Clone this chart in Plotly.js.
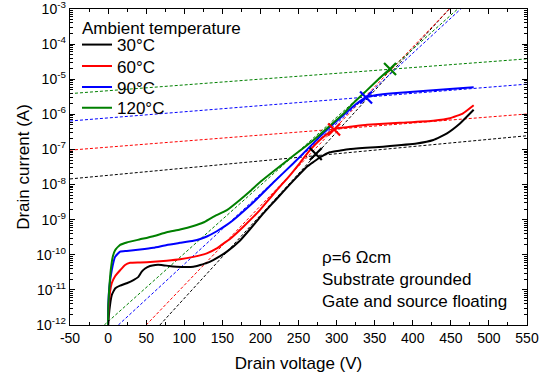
<!DOCTYPE html>
<html>
<head>
<meta charset="utf-8">
<script src="https://cdn.plot.ly/plotly-3.0.1.min.js"></script>
<style>html,body{margin:0;padding:0;background:#fff;}#chart{width:546px;height:377px;}</style>
</head>
<body>
<div id="chart"></div>
<script>
// ---- Data (drain voltage in V, log10 of drain current in A) ----
const legendTitle = "Ambient temperature";
const seriesNames = ["30°C", "60°C", "90°C", "120°C"];
const seriesColors = ["#000000", "#ff0000", "#0000ff", "#008000"];

const v30 = [0, 1.7, 4.8, 9.2, 15.8, 24.5, 33.3, 39.8, 44.2, 48.6, 55, 62, 70, 80, 90, 103, 112, 121, 130, 138, 147, 156, 173, 186, 198, 208, 220, 230, 248, 261, 270, 278, 291, 305, 318, 361, 405, 427, 445, 462, 480];
const logI30 = [-12, -11.58, -11.15, -10.96, -10.88, -10.81, -10.72, -10.63, -10.48, -10.39, -10.32, -10.29, -10.29, -10.32, -10.34, -10.35, -10.34, -10.29, -10.23, -10.15, -10.04, -9.91, -9.60, -9.28, -8.97, -8.72, -8.44, -8.20, -7.78, -7.49, -7.35, -7.23, -7.08, -7.03, -6.99, -6.92, -6.83, -6.73, -6.54, -6.26, -5.87];

const v60 = [0, 0.5, 2.6, 4.8, 9.2, 15.8, 22.3, 28.9, 42, 59.5, 77, 94.5, 112, 129.6, 142.7, 151.4, 160, 177.6, 199.6, 209, 221.5, 239, 252, 265, 278, 291.5, 300, 313, 340, 383, 427, 449, 466, 480];
const logI60 = [-12, -11.58, -11.05, -10.81, -10.61, -10.44, -10.29, -10.23, -10.22, -10.20, -10.17, -10.13, -10.06, -9.96, -9.82, -9.68, -9.55, -9.20, -8.72, -8.48, -8.16, -7.73, -7.38, -7.02, -6.73, -6.50, -6.40, -6.37, -6.30, -6.24, -6.18, -6.11, -5.97, -5.74];

const v90 = [0, 0.2, 1.7, 4.8, 9.2, 15.8, 24.5, 42, 59.5, 77, 94.5, 112, 121, 129.6, 142.7, 155.8, 164.5, 180, 195, 216.6, 243, 265, 287, 309, 326.5, 338.7, 352.7, 374.6, 418, 462, 480];
const logI90 = [-12, -11.48, -10.91, -10.44, -10.06, -9.91, -9.89, -9.85, -9.80, -9.72, -9.66, -9.60, -9.55, -9.48, -9.33, -9.15, -9.01, -8.72, -8.42, -7.95, -7.40, -6.92, -6.45, -6.02, -5.69, -5.52, -5.45, -5.40, -5.33, -5.26, -5.23];

const v120 = [0, 0.4, 1.7, 3.5, 6.1, 9.2, 15.8, 24.5, 42, 59.5, 77, 94.5, 112, 125, 138, 156, 173, 186, 200, 239, 270, 291.5, 309, 322, 340, 357, 370];
const logI120 = [-12, -11.38, -10.91, -10.44, -10.06, -9.87, -9.72, -9.65, -9.56, -9.47, -9.36, -9.28, -9.18, -9.08, -8.92, -8.73, -8.44, -8.20, -7.92, -7.25, -6.73, -6.32, -5.98, -5.68, -5.31, -4.96, -4.71];

// Fitted dashed lines: low-slope and steep, two end points each
const ohmicV = [-50, 550];
const ohmicLogI = [[-7.84, -6.61], [-7.02, -5.99], [-6.19, -5.14], [-5.41, -4.42]];
const steepLogI = [-12, -3];
const steepV = [[68, 448], [50, 448], [13.5, 463], [-5, 459]];

// Crossing markers
const crossV = [272.7, 296.7, 338.7, 370.2];
const crossLogI = [-7.13, -6.43, -5.52, -4.71];

// Tick labels
const yTickExp = [-12, -11, -10, -9, -8, -7, -6, -5, -4, -3];
const yTickText = yTickExp.map(e => "10<sup>" + e + "</sup>");
const xTickVals = [-50, 0, 50, 100, 150, 200, 250, 300, 350, 400, 450, 500, 550];

const annotationLines = ["ρ=6 Ωcm", "Substrate grounded", "Gate and source floating"];

const pow10 = a => a.map(v => Math.pow(10, v));
const FONT = "Liberation Sans, Arial, sans-serif";
const legendIds = ["legend", "legend2", "legend3", "legend4"];
const legendY = [0.886, 0.818, 0.752, 0.686];

const traces = [];
for (let i = 0; i < 4; i++) {
  traces.push({x: ohmicV, y: pow10(ohmicLogI[i]), mode: "lines", showlegend: false, hoverinfo: "skip",
    line: {color: seriesColors[i], width: 1, dash: "3px,2px"}});
  traces.push({x: steepV[i], y: pow10(steepLogI), mode: "lines", showlegend: false, hoverinfo: "skip",
    line: {color: seriesColors[i], width: 1, dash: "3px,2px"}});
}
const vs = [v30, v60, v90, v120];
const ls = [logI30, logI60, logI90, logI120];
for (let i = 0; i < 4; i++) {
  traces.push({x: vs[i], y: pow10(ls[i]), mode: "lines", name: seriesNames[i], legend: legendIds[i],
    line: {color: seriesColors[i], width: 2, shape: "spline", smoothing: 0.4}});
}
for (let i = 0; i < 4; i++) {
  traces.push({x: [crossV[i]], y: pow10([crossLogI[i]]), mode: "markers", showlegend: false,
    marker: {symbol: "x-thin", size: 12, line: {width: 2.2, color: seriesColors[i]}, color: seriesColors[i]}});
}

const minorY = [];
for (let e = -12; e < -3; e++) for (let d = 2; d <= 9; d++) minorY.push(d * Math.pow(10, e));

const layout = {
  width: 546, height: 377,
  margin: {l: 70, r: 19, t: 9, b: 52},
  paper_bgcolor: "#fff", plot_bgcolor: "#fff",
  font: {family: FONT, size: 14, color: "#000"},
  showlegend: true,
  xaxis: {
    range: [-50, 550], tickmode: "array", tickvals: xTickVals, ticktext: xTickVals.map(String),
    ticks: "inside", ticklen: 5, tickwidth: 1, tickcolor: "#000",
    showline: true, linecolor: "#000", linewidth: 1.3, mirror: "ticks",
    showgrid: false, zeroline: false, ticklabeloverflow: "allow",
    minor: {ticks: "inside", ticklen: 3, tickwidth: 1, tickcolor: "#000", dtick: 25, showgrid: false},
    tickfont: {family: FONT, size: 14},
    title: {text: "Drain voltage (V)", font: {family: FONT, size: 17}, standoff: 12}
  },
  yaxis: {
    type: "log", range: [-12, -3],
    tickmode: "array", tickvals: pow10(yTickExp), ticktext: yTickText,
    ticks: "inside", ticklen: 5, tickwidth: 1, tickcolor: "#000",
    showline: true, linecolor: "#000", linewidth: 1.3, mirror: "ticks",
    showgrid: false, zeroline: false, ticklabeloverflow: "allow",
    minor: {ticks: "inside", ticklen: 3, tickwidth: 1, tickcolor: "#000", tickmode: "array", tickvals: minorY, showgrid: false},
    tickfont: {family: FONT, size: 14},
    title: {text: "Drain current (A)", font: {family: FONT, size: 17}, standoff: 2}
  },
  annotations: [
    {xref: "paper", yref: "paper", x: 0.021, y: 0.937, xanchor: "left", yanchor: "middle",
     showarrow: false, text: legendTitle, font: {family: FONT, size: 17, color: "#000"}},
    {xref: "paper", yref: "paper", x: 0.547, y: 0.251, xanchor: "left", yanchor: "top",
     align: "left", showarrow: false, text: annotationLines.join("<br>"),
     font: {family: FONT, size: 17, color: "#000"}}
  ]
};
for (let i = 0; i < 4; i++) {
  layout[legendIds[i]] = {
    x: 0.0153, y: legendY[i], xanchor: "left", yanchor: "middle",
    bgcolor: "rgba(0,0,0,0)", borderwidth: 0,
    font: {family: FONT, size: 17, color: "#000"}
  };
}

Plotly.newPlot("chart", traces, layout, {staticPlot: true, displayModeBar: false});
</script>
</body>
</html>
